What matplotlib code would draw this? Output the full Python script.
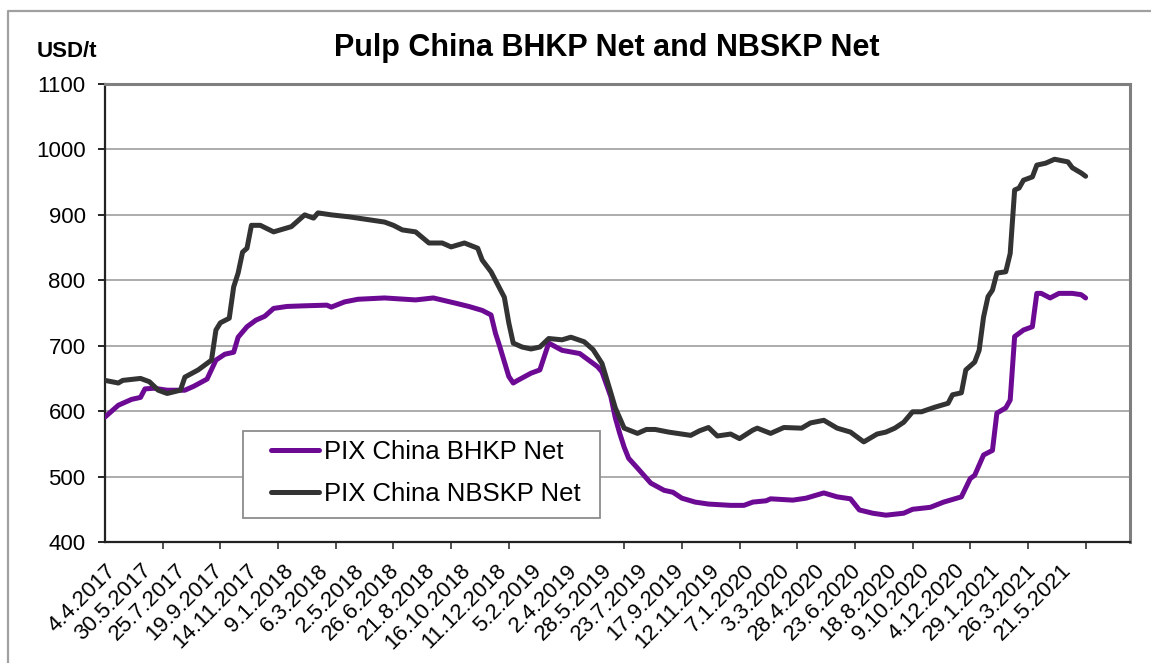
import numpy as np
import pandas as pd
import matplotlib
matplotlib.use("Agg")
import matplotlib.pyplot as plt
from matplotlib.lines import Line2D
from matplotlib.patches import Rectangle


START = pd.Timestamp("2017-04-04")

# weeks since 4.4.2017 and price (USD/t)
nbskp_weeks = [0, 3, 4, 8, 10, 12, 14, 17, 18, 21, 24, 25, 26, 28, 29, 30, 31, 32, 33, 35,
               38, 41, 42, 45, 47, 48, 51, 55, 60, 63, 65, 67, 70, 73, 76, 78, 81, 84, 85, 87,
               88, 90, 91, 92, 94, 96, 98, 100, 103, 105, 108, 110, 112, 114, 115, 117, 120, 122,
               124, 127, 132, 134, 136, 138, 141, 143, 146, 147, 150, 153, 157, 159, 162, 165,
               168, 171, 174, 176, 178, 180, 182, 184, 187, 190, 191, 193, 194, 196, 197, 198,
               199, 200, 201, 203, 204, 205, 206, 207, 209, 210, 212, 214, 217, 218, 220, 221]
nbskp = [647, 643, 647, 650, 645, 632, 627, 632, 652, 663, 678, 724, 735, 742, 790, 811, 843, 849, 884, 884,
         874, 880, 882, 900, 895, 903, 900, 897, 892, 889, 884, 877, 874, 857, 857, 851, 857, 849, 831, 813,
         800, 774, 735, 704, 698, 695, 698, 711, 709, 713, 706, 694, 673, 628, 605, 574, 566, 572,
         572, 568, 563, 570, 575, 562, 565, 558, 571, 574, 566, 575, 574, 582, 586, 574,
         568, 553, 565, 568, 574, 583, 599, 599, 606, 612, 625, 628, 663, 675, 693, 744,
         775, 785, 811, 813, 841, 938, 941, 953, 958, 976, 979, 985, 981, 972, 964, 959]

bhkp_weeks = [0, 3, 6, 8, 9, 11, 14, 18, 20, 23, 25, 27, 29, 30, 32, 34, 36, 38, 41, 45,
              50, 51, 54, 57, 63, 70, 74, 79, 82, 85, 87, 88, 89, 91, 92, 93, 96, 98, 100, 103,
              107, 111, 112, 114, 115, 116, 117, 118, 120, 123, 126, 128, 130, 133, 136, 141, 144,
              146, 149, 150, 155, 158, 162, 165, 168, 170, 173, 176, 180, 182, 186, 189, 192, 193,
              195, 196, 198, 200, 201, 203, 204, 205, 207, 209, 210, 211, 213, 215, 218, 220, 221]
bhkp = [591, 609, 618, 621, 634, 635, 632, 632, 638, 649, 678, 687, 690, 713, 729, 739, 745, 757, 760, 761,
        762, 759, 767, 771, 773, 770, 773, 765, 760, 754, 747, 719, 698, 653, 643, 647, 658, 663, 704, 693,
        688, 668, 660, 622, 590, 566, 545, 528, 513, 490, 479, 476, 467, 461, 458, 456, 456,
        461, 463, 466, 464, 467, 475, 469, 466, 449, 444, 441, 444, 450, 453, 461, 467, 469,
        497, 502, 533, 540, 597, 605, 617, 714, 724, 729, 780, 780, 773, 780, 780, 778, 773]

tick_labels = ["4.4.2017", "30.5.2017", "25.7.2017", "19.9.2017", "14.11.2017", "9.1.2018",
               "6.3.2018", "2.5.2018", "26.6.2018", "21.8.2018", "16.10.2018", "11.12.2018",
               "5.2.2019", "2.4.2019", "28.5.2019", "23.7.2019", "17.9.2019", "12.11.2019",
               "7.1.2020", "3.3.2020", "28.4.2020", "23.6.2020", "18.8.2020", "9.10.2020",
               "4.12.2020", "29.1.2021", "26.3.2021", "21.5.2021"]

PURPLE = "#6c0a94"
DARK = "#333333"
GRID = "#a6a6a6"


def to_dates(weeks):
    return START + pd.to_timedelta(np.array(weeks) * 7, unit="D")


def main() -> None:
    plt.rcParams["font.family"] = ["Liberation Sans", "DejaVu Sans"]

    fig = plt.figure(figsize=(11.51, 6.63), dpi=100)
    ax = fig.add_axes([105 / 1151, 1 - 542 / 663, 1025 / 1151, 458 / 663])

    ax.plot(to_dates(bhkp_weeks), bhkp, color=PURPLE, lw=3.6,
            solid_capstyle="round", solid_joinstyle="round", label="PIX China BHKP Net", zorder=3)
    ax.plot(to_dates(nbskp_weeks), nbskp, color=DARK, lw=3.6,
            solid_capstyle="round", solid_joinstyle="round", label="PIX China NBSKP Net", zorder=3)

    ax.set_ylim(400, 1100)
    ax.set_yticks(range(400, 1101, 100))
    ax.set_xlim(START, START + pd.Timedelta(weeks=231))
    ax.yaxis.grid(True, color=GRID, lw=1.3)
    ax.set_axisbelow(True)

    # labels every 8 weeks, tick marks every 13 weeks
    label_pos = pd.to_datetime(tick_labels, format="%d.%m.%Y")
    ax.set_xticks(label_pos)
    ax.set_xticklabels(tick_labels, rotation=45, ha="right", va="top",
                       rotation_mode="anchor", fontsize=16)
    ax.set_xticks(to_dates(range(0, 222, 13)), minor=True)
    ax.tick_params(axis="x", which="major", length=0, pad=13)
    ax.tick_params(axis="x", which="minor", length=5, width=1.2, direction="out", color="#333333")
    ax.tick_params(axis="y", length=5, width=1.2, direction="out", labelsize=16, pad=9)

    for side in ("left", "bottom"):
        ax.spines[side].set_color("#222222")
        ax.spines[side].set_linewidth(1.6)
    for side in ("top", "right"):
        ax.spines[side].set_color("#7f7f7f")
        ax.spines[side].set_linewidth(2.2)

    # legend box drawn separately so the entries can sit with a wider left margin
    ax.add_patch(Rectangle((0.1346, 0.0524), 0.348, 0.19, transform=ax.transAxes,
                           facecolor="white", edgecolor="#8c8c8c", lw=1.3, zorder=4))
    ax.legend(loc="upper left", bbox_to_anchor=(0.162, 0.2227), fontsize=18.5,
              frameon=False, handlelength=1.85, handletextpad=0.2, borderaxespad=0,
              borderpad=0, labelspacing=0.7).set_zorder(5)

    fig.text(0.527, 0.928, "Pulp China BHKP Net and NBSKP Net", ha="center", va="center",
             fontsize=22, fontweight="bold")
    fig.text(37 / 1151, 0.923, "USD/t", ha="left", va="center", fontsize=16, fontweight="bold")

    # outer chart border (left and top visible)
    fig.add_artist(Line2D([8 / 1151, 8 / 1151, 1], [0, 1 - 11 / 663, 1 - 11 / 663],
                          transform=fig.transFigure, color="#a0a0a0", lw=1.6))

    fig.savefig("out.png", dpi=100)


if __name__ == "__main__":
    main()
